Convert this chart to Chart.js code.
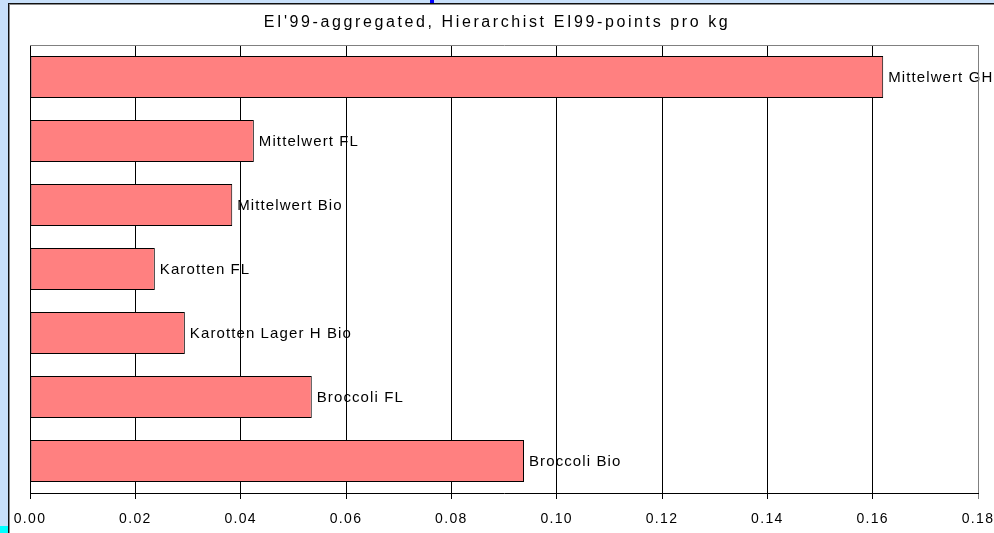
<!DOCTYPE html>
<html>
<head>
<meta charset="utf-8">
<script src="https://cdn.jsdelivr.net/npm/chart.js@4.4.1/dist/chart.umd.min.js"></script>
<style>
  html, body { margin: 0; padding: 0; }
  body { width: 994px; height: 533px; overflow: hidden; background: #c8e0fa; position: relative; }
  #frame { position: absolute; left: 8px; top: 3px; width: 1000px; height: 540px; background: #fff;
           border-left: 1px solid #111; border-top: 1px solid #111; box-shadow: inset 1px 1px 0 #8a8a8a; }
  #marker { position: absolute; left: 430px; top: 0; width: 4px; height: 3px; background: #0000ff; }
  #corner { position: absolute; left: 0; top: 526px; width: 8px; height: 7px; background: #00ffff; }
  #chart { position: absolute; left: 0; top: 0; }
</style>
</head>
<body>
<div id="frame"></div>
<div id="marker"></div>
<div id="corner"></div>
<canvas id="chart" width="994" height="533"></canvas>
<script>
// Product categories, top to bottom
const categories = [
  'Mittelwert GH',
  'Mittelwert FL',
  'Mittelwert Bio',
  'Karotten FL',
  'Karotten Lager H Bio',
  'Broccoli FL',
  'Broccoli Bio'
];
// EI99 points per kg
const ei99Values = [0.162, 0.0425, 0.0384, 0.0237, 0.0294, 0.0535, 0.0938];
// x-axis ticks
const xTicks = [0, 0.02, 0.04, 0.06, 0.08, 0.10, 0.12, 0.14, 0.16, 0.18];

const FONT = "'Liberation Sans', Arial, sans-serif";
const TEXT_SPACING = '1.3px';
const LABEL_SPACING = '1.1px';
const TITLE_SPACING = '2.6px';

// Wider letter spacing for canvas text; the title gets a bit more
const spacingPlugin = {
  id: 'spacing',
  beforeInit(chart) { chart.ctx.letterSpacing = TEXT_SPACING; },
  beforeDraw(chart) {
    chart.ctx.letterSpacing = TEXT_SPACING;
    const tb = chart.titleBlock;
    if (tb && !tb._spaced) {
      const draw = tb.draw;
      tb.draw = function () {
        const c = this.ctx;
        const prev = c.letterSpacing;
        c.letterSpacing = TITLE_SPACING;
        draw.apply(this, arguments);
        c.letterSpacing = prev;
      };
      tb._spaced = true;
    }
  }
};

// Grey frame along the top and right of the plot area
const plotFramePlugin = {
  id: 'plotFrame',
  afterDraw(chart) {
    const { ctx, chartArea: a } = chart;
    ctx.save();
    ctx.strokeStyle = '#808080';
    ctx.lineWidth = 1;
    ctx.beginPath();
    ctx.moveTo(a.left, a.top + 0.5);
    ctx.lineTo(a.right + 0.5, a.top + 0.5);
    ctx.lineTo(a.right + 0.5, a.bottom);
    ctx.stroke();
    ctx.restore();
  }
};

// Category name written just past the end of each bar
const barLabelPlugin = {
  id: 'barLabels',
  afterDatasetsDraw(chart) {
    const { ctx } = chart;
    const meta = chart.getDatasetMeta(0);
    ctx.save();
    ctx.letterSpacing = LABEL_SPACING;
    ctx.font = '15px ' + FONT;
    ctx.fillStyle = '#000';
    ctx.textAlign = 'left';
    ctx.textBaseline = 'middle';
    meta.data.forEach((bar, i) => {
      ctx.fillText(categories[i], bar.x + 5, bar.y + 1);
    });
    ctx.restore();
  }
};

new Chart(document.getElementById('chart'), {
  type: 'bar',
  data: {
    labels: categories,
    datasets: [{
      data: ei99Values,
      backgroundColor: '#ff8080',
      borderColor: '#000000',
      borderWidth: 1,
      borderSkipped: false,
      barPercentage: 0.66,
      categoryPercentage: 1
    }]
  },
  options: {
    indexAxis: 'y',
    responsive: false,
    animation: false,
    layout: { padding: { left: 16, right: 16, top: 0, bottom: 0 } },
    plugins: {
      legend: { display: false },
      tooltip: { enabled: false },
      title: {
        display: true,
        text: "EI'99-aggregated, Hierarchist EI99-points pro kg",
        color: '#000',
        font: { family: FONT, size: 16, weight: 'normal' },
        padding: { top: 13, bottom: 12.8 }
      }
    },
    scales: {
      x: {
        type: 'linear',
        min: 0,
        max: 0.18,
        afterBuildTicks(scale) { scale.ticks = xTicks.map(v => ({ value: v })); },
        afterFit(scale) {
          scale.height = 40;
          scale.paddingLeft = 0;
          scale.paddingRight = 0;
        },
        ticks: {
          color: '#000',
          padding: 12,
          font: { family: FONT, size: 14 },
          callback: v => Number(v).toFixed(2)
        },
        grid: {
          color: ctx => (ctx.index === xTicks.length - 1 ? '#808080' : '#000'),
          lineWidth: 1,
          tickLength: 6,
          drawTicks: true
        },
        border: { display: true, color: '#000', width: 1 }
      },
      y: {
        type: 'category',
        afterFit(scale) {
          scale.width = 14;
          scale.paddingTop = 0;
          scale.paddingBottom = 0;
        },
        ticks: { display: false },
        grid: { display: false },
        border: { display: true, color: '#000', width: 1 }
      }
    }
  },
  plugins: [spacingPlugin, plotFramePlugin, barLabelPlugin]
});
</script>
</body>
</html>
